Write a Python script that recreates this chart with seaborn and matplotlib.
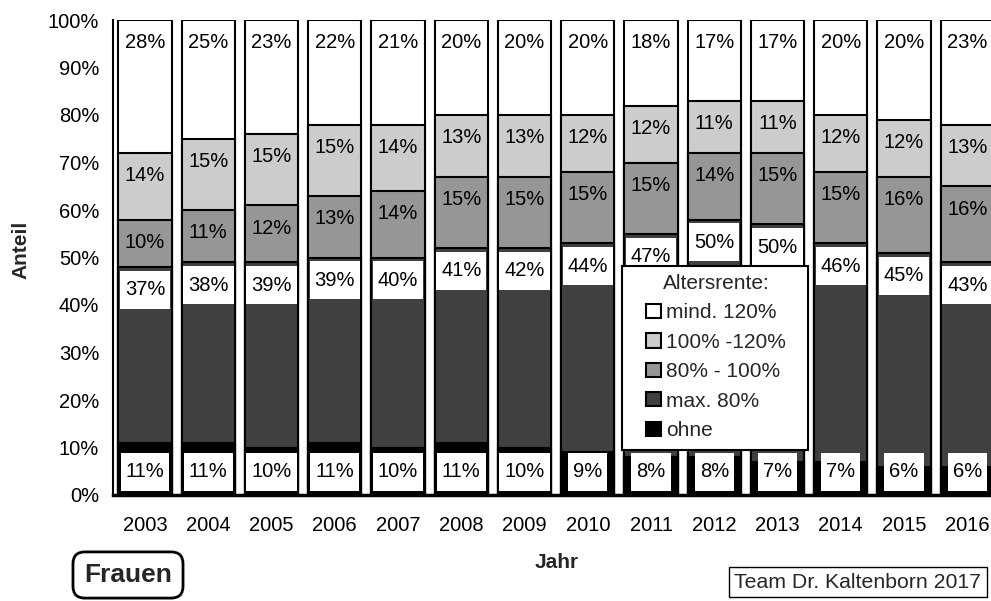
import numpy as np
import pandas as pd
import matplotlib
matplotlib.use("Agg")
import matplotlib.pyplot as plt
import seaborn as sns
from matplotlib.patches import Rectangle, Patch

years = ["2003", "2004", "2005", "2006", "2007", "2008", "2009",
         "2010", "2011", "2012", "2013", "2014", "2015", "2016"]
ohne = [11, 11, 10, 11, 10, 11, 10, 9, 8, 8, 7, 7, 6, 6]
max80 = [37, 38, 39, 39, 40, 41, 42, 44, 47, 50, 50, 46, 45, 43]
p80_100 = [10, 11, 12, 13, 14, 15, 15, 15, 15, 14, 15, 15, 16, 16]
p100_120 = [14, 15, 15, 15, 14, 13, 13, 12, 12, 11, 11, 12, 12, 13]
mind120 = [28, 25, 23, 22, 21, 20, 20, 20, 18, 17, 17, 20, 20, 23]
total_share = 100

series_names = ["ohne", "max. 80%", "80% - 100%", "100% -120%", "mind. 120%"]
series_vals = [ohne, max80, p80_100, p100_120, mind120]
colors = ["#000000", "#404040", "#969696", "#cccccc", "#ffffff"]

sns.set_theme(style="white")
plt.rcParams["font.family"] = ["Liberation Sans", "DejaVu Sans"]

W, H = 991, 601
fig = plt.figure(figsize=(W / 100, H / 100), dpi=100)
ax = fig.add_axes([113 / W, 1 - 495 / H, (W - 113) / W, 475 / H])

vals = np.array(series_vals, dtype=float)
tops = np.cumsum(vals, axis=0)
tops[-1] = total_share

bar_w = 0.84
for i in range(len(series_names) - 1, -1, -1):
    df = pd.DataFrame({"Jahr": years, "top": tops[i]})
    sns.barplot(data=df, x="Jahr", y="top", order=years, color=colors[i],
                saturation=1, edgecolor="black", linewidth=1.5, width=bar_w,
                ax=ax, zorder=2)

ax.set_xlim(-0.506, 13.375)
ax.set_ylim(0, 100)

fs = 14.5
boxed = []
for j in range(len(years)):
    for i in range(len(series_names)):
        v = series_vals[i][j]
        y = 4.9 if i == 0 else tops[i][j] - 4.8
        t = ax.text(j, y, f"{v}%", ha="center", va="center", fontsize=fs,
                    color="black", zorder=4)
        if i in (0, 1):
            boxed.append((t, j, y))

fig.canvas.draw()
renderer = fig.canvas.get_renderer()
px_per_x = ax.transData.transform((1, 0))[0] - ax.transData.transform((0, 0))[0]
px_per_y = ax.transData.transform((0, 1))[1] - ax.transData.transform((0, 0))[1]
for t, j, y in boxed:
    bb = t.get_window_extent(renderer)
    wpx = bb.width + 10
    hpx = 38
    wd = wpx / px_per_x
    hd = hpx / px_per_y
    ax.add_patch(Rectangle((j - wd / 2, y - hd / 2), wd, hd,
                           facecolor="white", edgecolor="none", zorder=3))

ax.set_yticks(np.arange(0, 101, 10))
ax.set_yticklabels([f"{t}%" for t in range(0, 101, 10)], fontsize=fs)
ax.set_xticks(range(len(years)))
ax.set_xticklabels(years, fontsize=fs)
ax.tick_params(axis="y", direction="out", length=6, width=1.5, pad=4, colors="black")
ax.tick_params(axis="x", length=0, pad=15, colors="black")
ax.set_xlabel("")
ax.set_ylabel("")
for s in ["top", "right"]:
    ax.spines[s].set_visible(False)
ax.spines["left"].set_linewidth(1.5)
ax.spines["left"].set_color("black")
ax.spines["bottom"].set_linewidth(2.5)
ax.spines["bottom"].set_color("black")
ax.spines["left"].set_zorder(5)

# legend
lx0, ly0, lx1, ly1 = 622, 266, 808, 450
ax.add_patch(Rectangle((lx0 / W, 1 - ly1 / H), (lx1 - lx0) / W, (ly1 - ly0) / H,
                       transform=fig.transFigure, facecolor="white",
                       edgecolor="black", linewidth=1.5, zorder=6, clip_on=False))
handles = [Patch(facecolor=colors[i], edgecolor="black", linewidth=1.5)
           for i in range(len(series_names) - 1, -1, -1)]
labels = series_names[::-1]
leg = ax.legend(handles, labels, title="Altersrente:", loc="center",
                bbox_to_anchor=(716 / W, 1 - 357 / H), bbox_transform=fig.transFigure,
                frameon=False, fontsize=15, title_fontsize=15,
                handlelength=0.68, handleheight=0.68, handletextpad=0.25,
                labelspacing=0.5, borderpad=0.2)
leg.set_zorder(7)

fig.text(21 / W, 1 - 250 / H, "Anteil", rotation=90, ha="center", va="center",
         fontsize=15, fontweight="bold")
fig.text(557 / W, 1 - 563 / H, "Jahr", ha="center", va="center",
         fontsize=15, fontweight="bold")
fig.text(128 / W, 1 - 575 / H, "Frauen", ha="center", va="center",
         fontsize=19, fontweight="bold",
         bbox=dict(boxstyle="round,pad=0.42,rounding_size=0.45",
                   facecolor="white", edgecolor="black", linewidth=2))
fig.text(858 / W, 1 - 582 / H, "Team Dr. Kaltenborn 2017", ha="center", va="center",
         fontsize=15.3,
         bbox=dict(boxstyle="square,pad=0.28", facecolor="white",
                   edgecolor="black", linewidth=1))

fig.savefig("out.png", dpi=100)
